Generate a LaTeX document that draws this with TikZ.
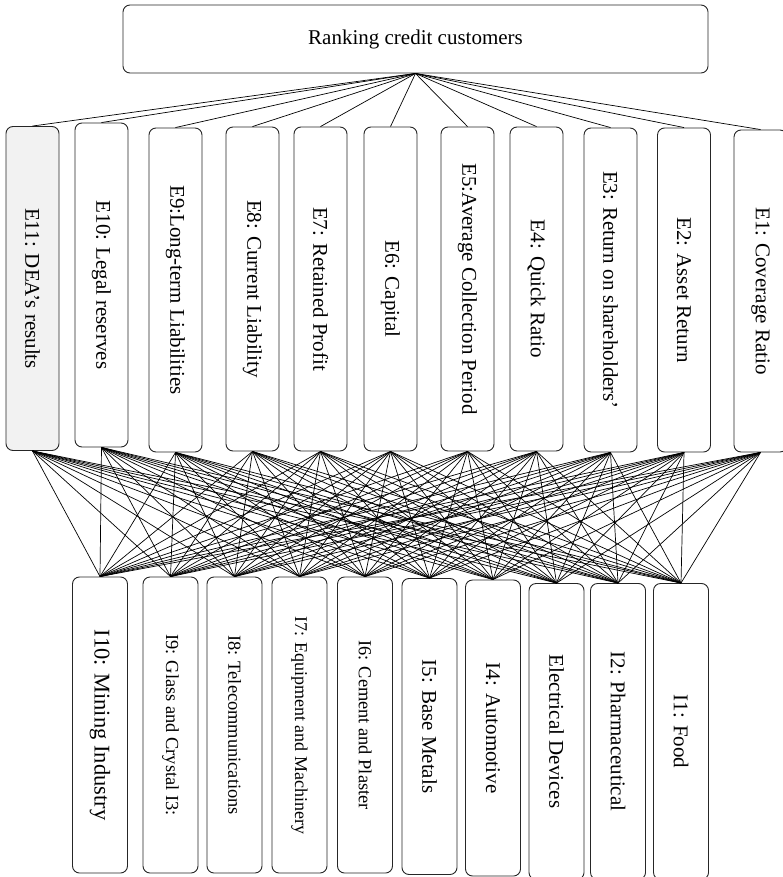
\documentclass[tikz,border=0pt]{standalone}
\usepackage{fontspec}
\setmainfont{Liberation Serif}
\usepackage{tikz}

\definecolor{eshade}{RGB}{242,242,242}

\begin{document}
\begin{tikzpicture}[x=1pt, y=-1pt,
  box/.style={draw=black!85, line width=0.9pt, rounded corners=7pt, inner sep=0pt, fill=white},
  ebox/.style={box, minimum width=53pt, minimum height=324pt, font=\fontsize{21}{24}\selectfont},
  ibox/.style={box, minimum width=55pt, minimum height=296pt, font=\fontsize{21}{24}\selectfont},
  small/.style={font=\fontsize{18.4}{22}\selectfont},
  link/.style={line width=0.7pt}]

\clip (0,0) rectangle (783,877);

\node[box, minimum width=585pt, minimum height=68pt, font=\fontsize{21}{24}\selectfont] (rank) at (415.5,39) {Ranking credit customers};

\node[ebox, fill=eshade] (e11) at (32.5,288.5) {\rotatebox{-90}{E11: DEA’s results}};
\node[ebox] (e10) at (101.5,285) {\rotatebox{-90}{E10: Legal reserves}};
\node[ebox] (e9) at (175.5,290) {\rotatebox{-90}{E9:Long-term Liabilities}};
\node[ebox] (e8) at (252.5,289) {\rotatebox{-90}{E8: Current Liability}};
\node[ebox] (e7) at (320.5,289) {\rotatebox{-90}{E7: Retained Profit}};
\node[ebox] (e6) at (390.5,289) {\rotatebox{-90}{E6: Capital}};
\node[ebox] (e5) at (467.5,289) {\rotatebox{-90}{E5:Average Collection Period}};
\node[ebox] (e4) at (536.5,289) {\rotatebox{-90}{E4: Quick Ratio}};
\node[ebox] (e3) at (610.5,290) {\rotatebox{-90}{E3: Return on shareholders’}};
\node[ebox] (e2) at (684,290) {\rotatebox{-90}{E2: Asset Return}};
\node[ebox, minimum height=322pt] (e1) at (760.5,291) {\rotatebox{-90}{E1: Coverage Ratio}};

\node[ibox, font=\fontsize{22.5}{26}\selectfont] (i10) at (100,725) {\rotatebox{-90}{I10: Mining Industry}};
\node[ibox, small] (i9) at (170.5,725) {\rotatebox{-90}{I9: Glass and Crystal I3:}};
\node[ibox, small] (i8) at (234.5,725) {\rotatebox{-90}{I8: Telecommunications}};
\node[ibox, font=\fontsize{18}{22}\selectfont] (i7) at (299.5,725) {\rotatebox{-90}{I7: Equipment and Machinery}};
\node[ibox, small] (i6) at (365,725) {\rotatebox{-90}{I6: Cement and Plaster}};
\node[ibox] (i5) at (429.5,726.5) {\rotatebox{-90}{I5: Base Metals}};
\node[ibox] (i4) at (493,728) {\rotatebox{-90}{I4: Automotive}};
\node[ibox] (i3) at (556.5,731.5) {\rotatebox{-90}{Electrical Devices}};
\node[ibox] (i2) at (618,731.5) {\rotatebox{-90}{I2: Pharmaceutical}};
\node[ibox] (i1) at (681,731.5) {\rotatebox{-90}{I1: Food}};

\foreach \e in {1,...,11}
\draw[link] (rank.south) -- (e\e.north);

\foreach \e in {1,...,11}
\foreach \i in {1,...,10}
\draw[link] (e\e.south) -- (i\i.north);

\end{tikzpicture}
\end{document}
